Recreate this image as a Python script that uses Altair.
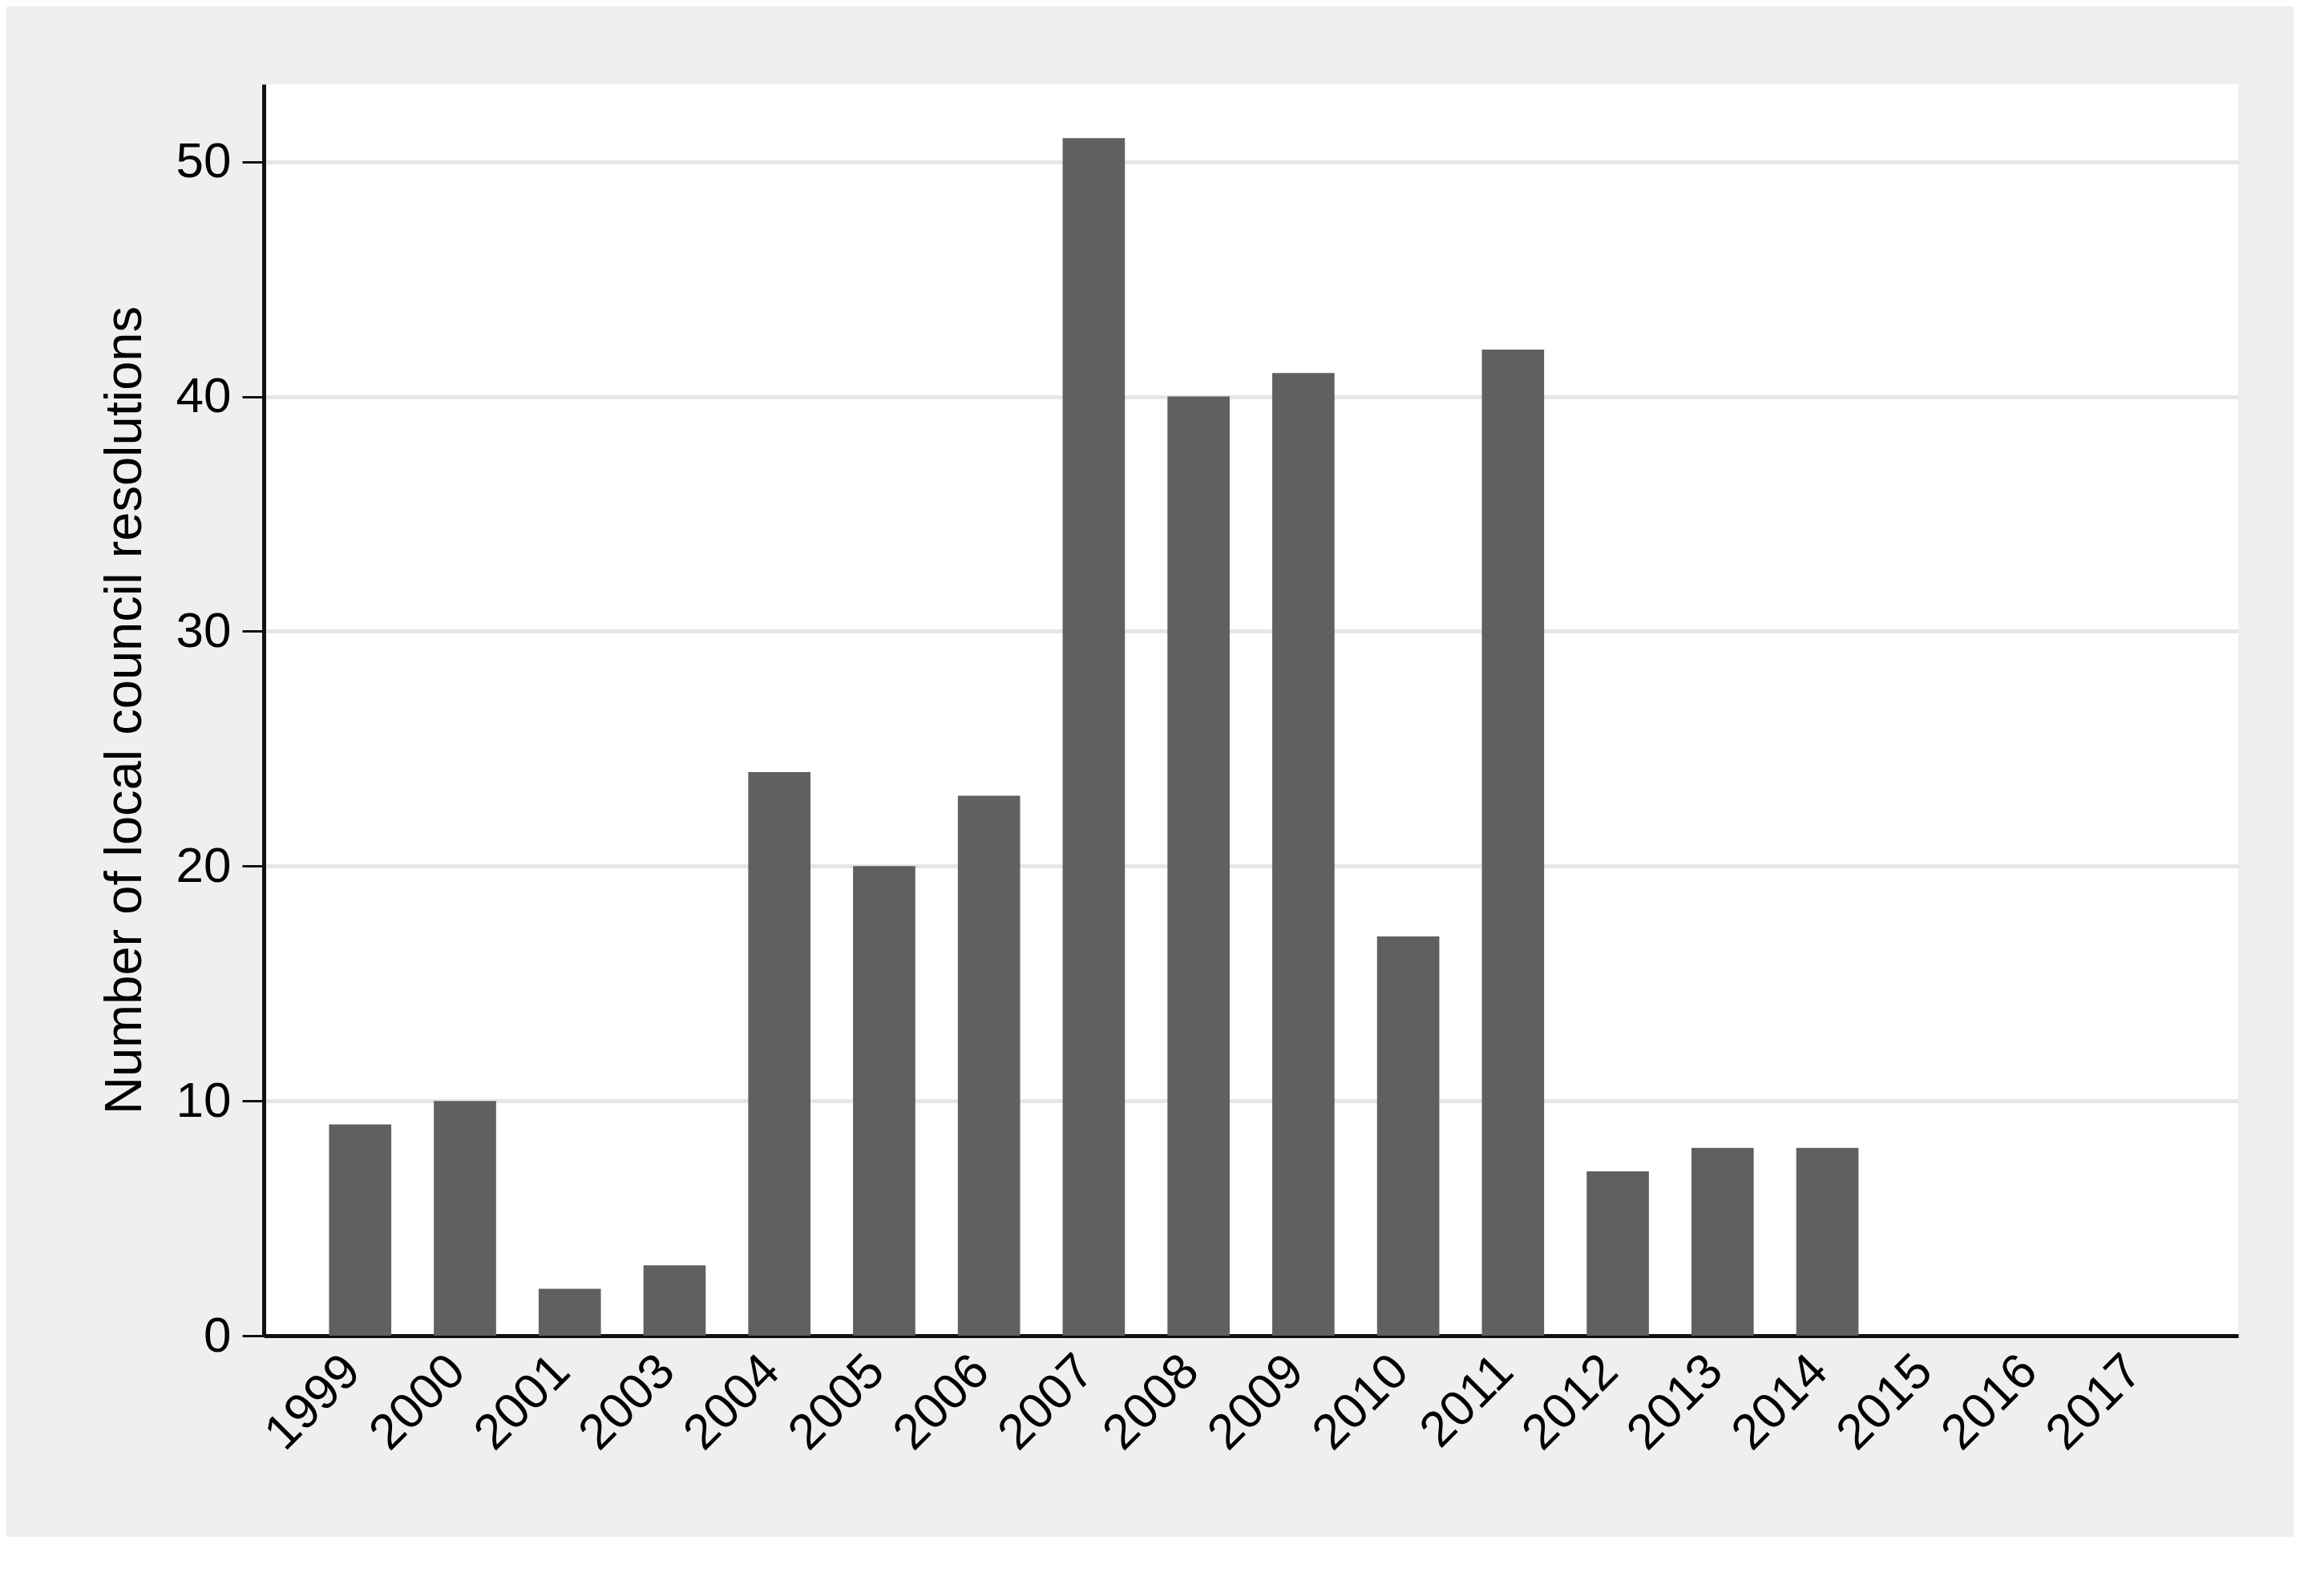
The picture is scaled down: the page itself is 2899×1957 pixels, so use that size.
import altair as alt
import pandas as pd

years = ["1999", "2000", "2001", "2003", "2004", "2005", "2006", "2007", "2008",
         "2009", "2010", "2011", "2012", "2013", "2014", "2015", "2016", "2017"]
counts = [9, 10, 2, 3, 24, 20, 23, 51, 40, 41, 17, 42, 7, 8, 8, 0, 0, 0]
y_ticks = [0, 10, 20, 30, 40, 50]

df = pd.DataFrame({"year": years, "count": counts})

FONT = "Liberation Sans"

chart = alt.Chart(df).mark_bar(color="#606060").encode(
    x=alt.X(
        "year:N",
        sort=years,
        scale=alt.Scale(paddingInner=0.406, paddingOuter=0.623),
        axis=alt.Axis(
            title=None,
            labelAngle=-45,
            labelAlign="right",
            labelBaseline="middle",
            labelFont=FONT,
            labelFontSize=62,
            labelColor="#000000",
            labelPadding=34,
            labelOffset=-10,
            ticks=False,
            tickSize=0,
            domainColor="#111111",
            domainWidth=5,
            grid=False,
        ),
    ),
    y=alt.Y(
        "count:Q",
        scale=alt.Scale(domain=[0, 53.3], nice=False),
        axis=alt.Axis(
            title="Number of local council resolutions",
            titleFont=FONT,
            titleFontSize=65,
            titleFontWeight="normal",
            titleColor="#000000",
            titlePadding=30,
            values=y_ticks,
            labelFont=FONT,
            labelFontSize=62,
            labelColor="#000000",
            labelPadding=14,
            tickSize=27,
            tickWidth=3,
            tickColor="#111111",
            domainColor="#111111",
            domainWidth=5,
            grid=True,
            gridColor="#e6e6e6",
            gridWidth=5,
        ),
    ),
).properties(
    width=2463,
    height=1561,
    background="#efefef",
    padding={"left": 321, "top": 97, "right": 69, "bottom": 251},
    autosize=alt.AutoSizeParams(type="none"),
).configure_view(
    fill="#ffffff",
    stroke=None,
)

chart.save("out.html", embed_options={"renderer": "svg", "actions": False})
